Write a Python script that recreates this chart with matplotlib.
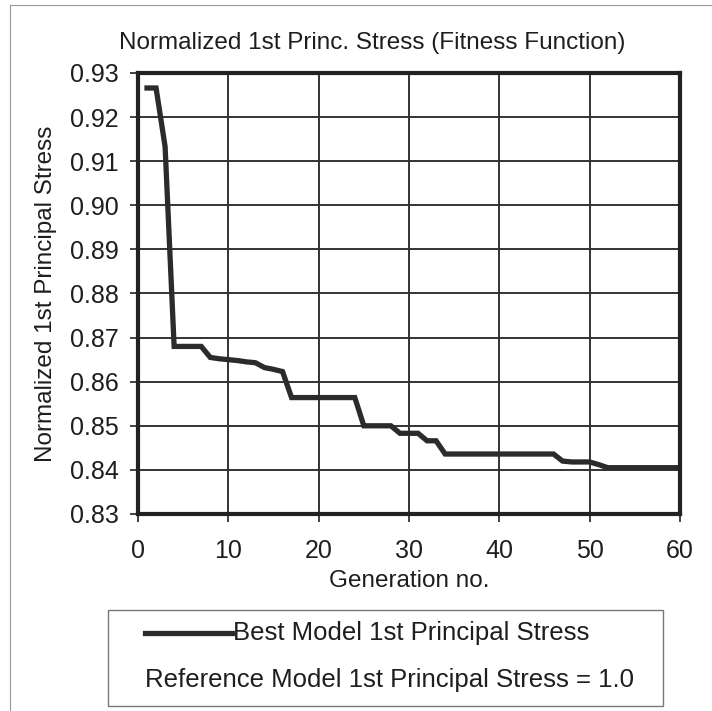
import matplotlib.pyplot as plt
from matplotlib.lines import Line2D
from matplotlib.patches import Rectangle

plt.rcParams['font.family'] = ['Liberation Sans', 'DejaVu Sans']

# generation numbers and best normalized stress
generations = list(range(1, 61))
best_stress = [
    0.9266, 0.9266, 0.9133, 0.8680, 0.8680, 0.8680, 0.8680, 0.8655, 0.8652, 0.8650,
    0.8648, 0.8645, 0.8643, 0.8632, 0.8628, 0.8623, 0.8564, 0.8564, 0.8564, 0.8564,
    0.8564, 0.8564, 0.8564, 0.8564, 0.8500, 0.8500, 0.8500, 0.8500, 0.8483, 0.8483,
    0.8483, 0.8466, 0.8466, 0.8436, 0.8436, 0.8436, 0.8436, 0.8436, 0.8436, 0.8436,
    0.8436, 0.8436, 0.8436, 0.8436, 0.8436, 0.8436, 0.8420, 0.8418, 0.8418, 0.8418,
    0.8412, 0.8405, 0.8405, 0.8405, 0.8405, 0.8405, 0.8405, 0.8405, 0.8405, 0.8405,
]
x_ticks = [0, 10, 20, 30, 40, 50, 60]
y_ticks = [0.83, 0.84, 0.85, 0.86, 0.87, 0.88, 0.89, 0.90, 0.91, 0.92, 0.93]

W, H = 712, 711
txt = '#1e1e1e'
fig = plt.figure(figsize=(W / 100, H / 100), dpi=100)
ax = fig.add_axes([138 / W, 1 - 514 / H, (680 - 138) / W, (514 - 73) / H])

ax.plot(generations, best_stress, color='#2b2b2b', linewidth=3.8,
        solid_joinstyle='miter')

ax.set_xlim(0, 60)
ax.set_ylim(0.83, 0.93)
ax.set_xticks(x_ticks)
ax.set_yticks(y_ticks)
ax.set_yticklabels([f"{v:.2f}" for v in y_ticks])
ax.grid(True, color='#333333', linewidth=1.4)
ax.set_axisbelow(True)
for s in ax.spines.values():
    s.set_linewidth(3.0)
    s.set_color('#222222')
ax.tick_params(labelsize=18, length=6, width=1.3, color='#333333',
               labelcolor=txt)
ax.tick_params(axis='y', pad=8)
ax.tick_params(axis='x', pad=12)

ax.set_xlabel('Generation no.', fontsize=17.5, color=txt, labelpad=5)
ax.set_ylabel('Normalized 1st Principal Stress', fontsize=17.5, color=txt,
              labelpad=9)
fig.text(372 / W, 1 - 43 / H, 'Normalized 1st Princ. Stress (Fitness Function)',
         ha='center', va='center', fontsize=17.5, color=txt)

# legend box drawn by hand
fig.patches.append(Rectangle((108 / W, 1 - 706 / H), (663 - 108) / W, (706 - 610) / H,
                             transform=fig.transFigure, fill=False,
                             edgecolor='#777777', linewidth=1.0))
fig.lines.append(Line2D([145 / W, 232 / W], [1 - 633 / H, 1 - 633 / H],
                        transform=fig.transFigure, color='#2b2b2b', linewidth=3.8))
fig.text(233 / W, 1 - 633 / H, 'Best Model 1st Principal Stress',
         ha='left', va='center', fontsize=18.5, color=txt)
fig.text(145 / W, 1 - 680 / H, 'Reference Model 1st Principal Stress = 1.0',
         ha='left', va='center', fontsize=18.5, color=txt)

# page border from the scan
fig.lines.append(Line2D([10 / W, 10 / W], [0, 1 - 5 / H], transform=fig.transFigure,
                        color='#999999', linewidth=0.8))
fig.lines.append(Line2D([10 / W, 1], [1 - 5 / H, 1 - 5 / H], transform=fig.transFigure,
                        color='#999999', linewidth=0.8))

fig.savefig('out.png', dpi=100)
